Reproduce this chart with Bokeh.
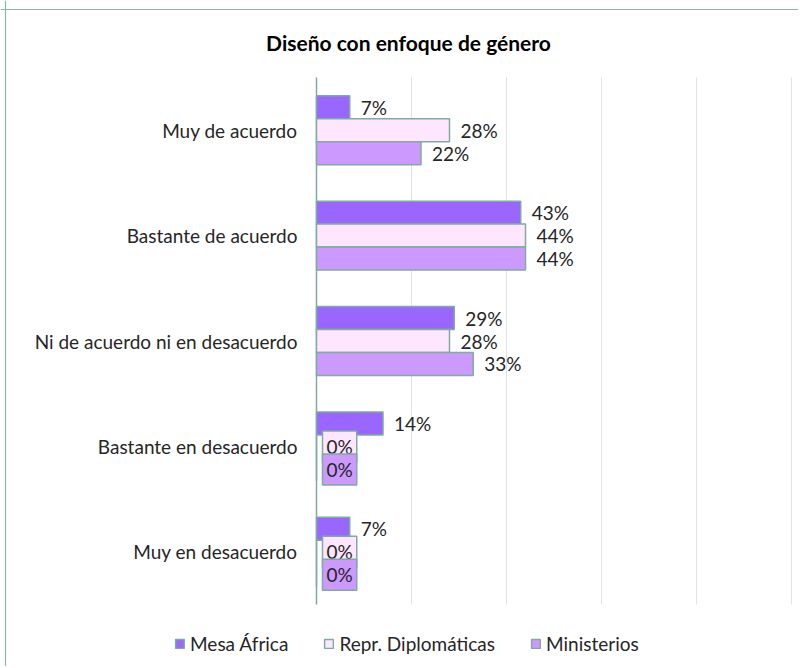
from bokeh.plotting import figure
from bokeh.models import (ColumnDataSource, Range1d, LabelSet, Label, Legend, LegendItem,
                          FixedTicker, Grid, Span)
from bokeh.core.properties import value
from bokeh.transform import dodge
from bokeh.embed import file_html
from bokeh.resources import INLINE

title_text = "Diseño con enfoque de género"
categories = ["Muy de acuerdo", "Bastante de acuerdo", "Ni de acuerdo ni en desacuerdo",
              "Bastante en desacuerdo", "Muy en desacuerdo"]
series_names = ["Mesa África", "Repr. Diplomáticas", "Ministerios"]
mesa_africa = [7, 43, 29, 14, 7]
repr_diplomaticas = [28, 44, 28, 0, 0]
ministerios = [22, 44, 33, 0, 0]
x_ticks = [0, 20, 40, 60, 80, 100]

colors = ["#9966FF", "#FFE6FF", "#CC99FF"]
border = "#7FABA0"
frame_border = "#8FB3AB"
FONT = "Lato"
TXT = "#262626"
FS = "19px"

# layout (pixels)
W, H = 798, 666
X0_PX, XPX_PER = 316, 4.75          # x=0 at 316 px, 4.75 px per percent
Y0_PX, YPX_PER = 129.7, 105.4       # first category centre, px per category

ypos = [-i for i in range(len(categories))]

p = figure(width=W, height=H,
           x_range=Range1d(-X0_PX / XPX_PER, (W - X0_PX) / XPX_PER),
           y_range=Range1d(-(H - Y0_PX) / YPX_PER, Y0_PX / YPX_PER),
           output_backend="svg", toolbar_location=None,
           min_border_left=0, min_border_right=0, min_border_top=0, min_border_bottom=0)
p.outline_line_color = None
p.xaxis.visible = False
p.yaxis.visible = False
p.xgrid.visible = False
p.ygrid.visible = False

band = (ypos[-1] - 0.5, ypos[0] + 0.5)
grid_ticks = [t for t in x_ticks if t != 0]
if "cross_bounds" in Grid.properties():
    g = Grid(dimension=0, ticker=FixedTicker(ticks=grid_ticks), grid_line_color="#DCE6E4",
             grid_line_width=1, cross_bounds=band)
    p.add_layout(g)
    ax = Grid(dimension=0, ticker=FixedTicker(ticks=[0]), grid_line_color=border,
              grid_line_width=1.5, cross_bounds=band)
    p.add_layout(ax)
else:
    n = len(grid_ticks)
    p.segment(x0=grid_ticks, x1=grid_ticks, y0=[band[0]] * n, y1=[band[1]] * n,
              line_color="#DCE6E4", line_width=1)
    p.segment(x0=[0], x1=[0], y0=[band[0]], y1=[band[1]], line_color=border, line_width=1.5)

# chart-area border (left and top edges)
p.add_layout(Span(location=-X0_PX / XPX_PER + 5 / XPX_PER, dimension="height",
                  line_color=frame_border, line_width=1.2))
p.add_layout(Span(location=Y0_PX / YPX_PER - 9 / YPX_PER, dimension="width",
                  line_color=frame_border, line_width=1.2))

# title
p.add_layout(Label(x=408, y=H - 42, x_units="screen", y_units="screen", text=title_text,
                   text_align="center", text_baseline="middle", text_font=FONT,
                   text_font_size="21px", text_font_style="bold", text_color="#000000"))

# category labels
cat_src = ColumnDataSource(dict(ypos=ypos, cat=categories))
p.text(x=0, y="ypos", text="cat", source=cat_src, x_offset=-19, text_align="right",
       text_baseline="middle", text_font=value(FONT), text_font_size=FS, text_color=TXT)

offsets = [0.218, 0.0, -0.218]
values = [mesa_africa, repr_diplomaticas, ministerios]
items = []
for name, vals, off, col in zip(series_names, values, offsets, colors):
    src = ColumnDataSource(dict(ypos=ypos, val=vals, lbl=[f"{v}%" for v in vals]))
    r = p.hbar(y=dodge("ypos", off), right="val", left=0, height=0.218,
               source=src, fill_color=col, line_color=border, line_width=1.5)
    items.append(LegendItem(label=name, renderers=[r]))
    nz = [i for i, v in enumerate(vals) if v != 0]
    z = [i for i, v in enumerate(vals) if v == 0]
    if nz:
        s1 = ColumnDataSource(dict(ypos=[ypos[i] for i in nz], val=[vals[i] for i in nz],
                                   lbl=[f"{vals[i]}%" for i in nz]))
        p.add_layout(LabelSet(x="val", y=dodge("ypos", off), text="lbl", source=s1,
                              x_offset=11, text_baseline="middle", text_font=value(FONT),
                              text_font_size=FS, text_color=TXT))
    if z:
        s2 = ColumnDataSource(dict(ypos=[ypos[i] for i in z], val=[vals[i] for i in z],
                                   lbl=[f"{vals[i]}%" for i in z]))
        p.text(x="val", y=dodge("ypos", off), text="lbl", source=s2,
               x_offset=6, text_baseline="middle", text_font=value(FONT),
               text_font_size=FS, text_color=TXT,
               background_fill_color=col, border_line_color=border,
               border_line_width=1.5, padding=4)

legend = Legend(items=items, orientation="horizontal", location=(174, 11),
                border_line_color=None, background_fill_alpha=0,
                label_text_font=FONT, label_text_font_size=FS, label_text_color=TXT,
                glyph_width=11, glyph_height=11, spacing=35, label_standoff=5,
                padding=4, margin=0)
p.add_layout(legend, "center")

open("out.html", "w").write(file_html(p, INLINE))
